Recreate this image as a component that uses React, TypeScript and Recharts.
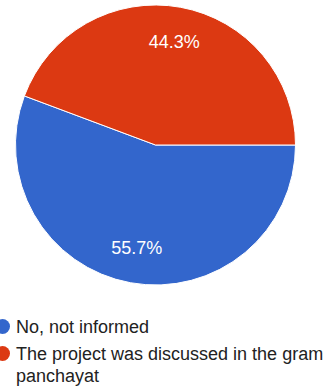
import { PieChart, Pie, Cell } from "recharts";

const categories = ["No, not informed", "The project was discussed in the gram panchayat"];
const shares = [55.7, 44.3];
const colors = ["#3366cc", "#dc3912"];

const data = categories.map((name, i) => ({ name, value: shares[i] }));

const RADIAN = Math.PI / 180;
const FONT = '"Liberation Sans", Arial, sans-serif';

const renderLabel = (props: any) => {
  const { cx, cy, midAngle, outerRadius, value } = props;
  const r = outerRadius * 0.75;
  const x = cx + r * Math.cos(-midAngle * RADIAN);
  const y = cy + r * Math.sin(-midAngle * RADIAN);
  return (
    <text
      x={x}
      y={y}
      fill="#ffffff"
      fontSize={18}
      fontFamily={FONT}
      textAnchor="middle"
      dominantBaseline="central"
    >
      {value.toFixed(1)}%
    </text>
  );
};

export default function App() {
  return (
    <div
      style={{
        position: "absolute",
        left: 0,
        top: 0,
        width: 332,
        height: 392,
        background: "#ffffff",
        overflow: "hidden",
        fontFamily: FONT,
      }}
    >
      <PieChart width={332} height={300} margin={{ top: 0, right: 0, bottom: 0, left: 0 }}>
        <Pie
          data={data}
          dataKey="value"
          cx={155.5}
          cy={145}
          outerRadius={140}
          startAngle={0}
          endAngle={-360}
          stroke="#ffffff"
          strokeWidth={1}
          label={renderLabel}
          labelLine={false}
          isAnimationActive={false}
        >
          {data.map((d, i) => (
            <Cell key={d.name} fill={colors[i]} />
          ))}
        </Pie>
      </PieChart>
      {/* legend */}
      <div style={{ position: "absolute", left: 0, top: 316, width: 332 }}>
        {data.map((d, i) => (
          <div key={d.name} style={{ position: "relative", marginBottom: 5 }}>
            <span
              style={{
                position: "absolute",
                left: -5,
                top: 3,
                width: 15,
                height: 15,
                borderRadius: "50%",
                background: colors[i],
              }}
            />
            <div
              style={{
                marginLeft: 16,
                fontSize: 18,
                lineHeight: "22px",
                color: "#222222",
                width: 316,
              }}
            >
              {d.name}
            </div>
          </div>
        ))}
      </div>
    </div>
  );
}
